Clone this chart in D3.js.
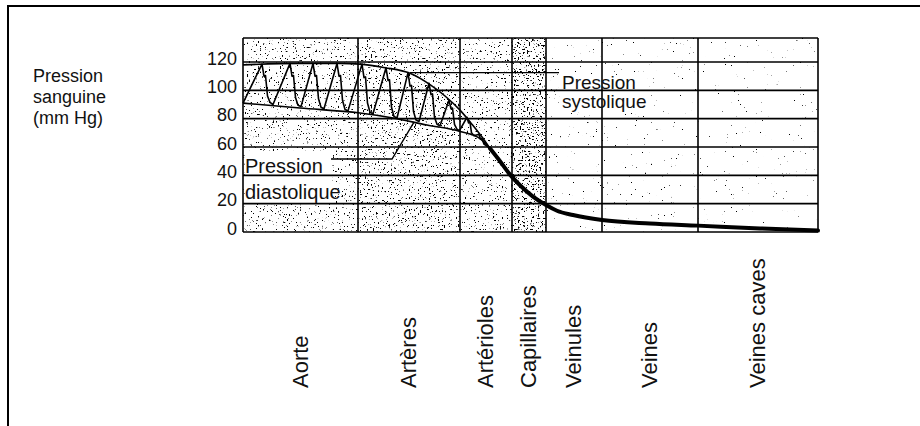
<!DOCTYPE html>
<html>
<head>
<meta charset="utf-8">
<script src="https://cdn.jsdelivr.net/npm/d3@7"></script>
<style>
  body { margin: 0; background: #fff; }
  svg text { font-family: "Liberation Sans", Arial, Helvetica, sans-serif; fill: #111; }
</style>
</head>
<body>
<div id="chart"></div>
<script>
// vessel segments along the circulation (schematic length of each box)
var segments = ["Aorte", "Artères", "Artérioles", "Capillaires", "Veinules", "Veines", "Veines caves"];
var segmentLengths = [23, 20.4, 10.4, 6.8, 11.2, 19.2, 24];
var pressureTicks = [0, 20, 40, 60, 80, 100, 120];

// [position, pressure mm Hg]
var systolic = [[0, 118], [11.4, 119], [19.4, 119], [23.4, 118.5], [28.4, 116], [33.4, 112],
  [37.4, 104], [40.4, 96], [43.4, 86], [45.8, 76], [47.8, 67], [49.4, 59]];
var diastolic = [[0, 91], [11.4, 87.5], [23.4, 84], [30, 80.5], [36.8, 75.5], [43.4, 71],
  [47.4, 66], [49.4, 59]];
var pulse = [[0, 91], [3.8, 118.5], [4.2, 110], [4.5, 110.5], [4.9, 96], [5.4, 91.5], [6, 90],
  [9.4, 119], [9.8, 110], [10.1, 110.5], [10.5, 95], [11, 89.5], [11.6, 88.5],
  [14, 119], [14.4, 110], [14.7, 110.5], [15.1, 94], [15.6, 88], [16.2, 87],
  [18.8, 119], [19.2, 110], [19.5, 110.5], [19.9, 93], [20.4, 86.5], [21, 85.5],
  [23.8, 118.5], [24.2, 109], [24.5, 109.5], [24.9, 91], [25.4, 84.5], [26, 83.5],
  [28.6, 116], [29, 107], [29.3, 107.5], [29.7, 88], [30.2, 81.5], [30.8, 80.5],
  [33, 112.5], [33.4, 103], [33.7, 103.5], [34.1, 85], [34.6, 79], [35.2, 78],
  [37.2, 105], [37.6, 97], [37.9, 97.5], [38.3, 81], [38.8, 76], [39.4, 75],
  [41.2, 93], [41.6, 87], [41.9, 87.5], [42.3, 76], [42.8, 72.5], [43.3, 71.5],
  [44.8, 81], [45.1, 77], [45.4, 77.5], [45.7, 70], [46.2, 68],
  [47.2, 69], [47.5, 65.5], [47.8, 66], [48.2, 62], [49.4, 59]];
var meanPressure = [[49.4, 59], [51.4, 50], [53.4, 40.5], [55.4, 33], [58, 25], [60.6, 19],
  [62.8, 15], [66, 12], [71.8, 8.5], [81.4, 6], [91, 4.5], [103.4, 2.5], [115, 1]];

var W = 920, H = 426;
var plot = {left: 243, right: 818, top: 38, bottom: 232};

var svg = d3.select("#chart").append("svg")
    .attr("width", W)
    .attr("height", H);

var x = d3.scaleLinear()
    .domain([0, d3.sum(segmentLengths)])
    .range([plot.left, plot.right]);
var y = d3.scaleLinear()
    .domain([0, 120])
    .range([plot.bottom, 62]);

// segment boundaries in data units
var bounds = [0];
segmentLengths.forEach(function(l, i) { bounds.push(bounds[i] + l); });

// speckle texture, one filter per density
var density = [0.33, 0.35, 0.32, 0.39, 0.24, 0.23, 0.22];
var defs = svg.append("defs");
density.forEach(function(d, i) {
  var f = defs.append("filter")
      .attr("id", "speck" + i)
      .attr("x", 0).attr("y", 0).attr("width", 1).attr("height", 1)
      .attr("color-interpolation-filters", "sRGB");
  f.append("feTurbulence")
      .attr("type", "fractalNoise")
      .attr("baseFrequency", 0.55)
      .attr("numOctaves", 3)
      .attr("seed", 3 + i);
  f.append("feColorMatrix")
      .attr("type", "matrix")
      .attr("values", "0 0 0 0 0  0 0 0 0 0  0 0 0 0 0  -16 0 0 0 " + (16 * d));
});

// frame of the figure
svg.append("path")
    .attr("d", "M8," + H + "V6H" + W)
    .attr("fill", "none")
    .attr("stroke", "#000")
    .attr("stroke-width", 2);

svg.selectAll(".cell")
    .data(segments)
  .enter().append("rect")
    .attr("class", "cell")
    .attr("x", function(d, i) { return x(bounds[i]); })
    .attr("y", plot.top)
    .attr("width", function(d, i) { return x(bounds[i + 1]) - x(bounds[i]); })
    .attr("height", plot.bottom - plot.top)
    .attr("fill", "#fff")
    .attr("filter", function(d, i) { return "url(#speck" + i + ")"; });

// white patches behind the in-plot labels
svg.append("rect")
    .attr("x", x(63.6)).attr("y", 75)
    .attr("width", 82).attr("height", 37)
    .attr("fill", "#fff");
svg.append("rect")
    .attr("x", x(0.3)).attr("y", 151)
    .attr("width", 88).attr("height", 53)
    .attr("fill", "#fff");

// grid
svg.selectAll(".hgrid")
    .data(pressureTicks)
  .enter().append("line")
    .attr("class", "hgrid")
    .attr("x1", plot.left).attr("x2", plot.right)
    .attr("y1", function(d) { return y(d); })
    .attr("y2", function(d) { return y(d); })
    .attr("stroke", "#000")
    .attr("stroke-width", 1.6);

svg.selectAll(".vgrid")
    .data(bounds)
  .enter().append("line")
    .attr("class", "vgrid")
    .attr("x1", function(d) { return x(d); })
    .attr("x2", function(d) { return x(d); })
    .attr("y1", plot.top).attr("y2", plot.bottom)
    .attr("stroke", "#000")
    .attr("stroke-width", 1.6);

svg.append("line")
    .attr("x1", plot.left).attr("x2", plot.right)
    .attr("y1", plot.top).attr("y2", plot.top)
    .attr("stroke", "#000")
    .attr("stroke-width", 1.6);

// y axis
var yAxis = svg.append("g")
    .attr("transform", "translate(" + plot.left + ",0)")
    .call(d3.axisLeft(y).tickValues(pressureTicks).tickSize(0).tickPadding(6));
yAxis.select(".domain").remove();
yAxis.selectAll("text")
    .attr("font-size", 18)
    .attr("font-family", null)
    .attr("dy", "0.12em");

var yTitle = ["Pression", "sanguine", "(mm Hg)"];
svg.append("text")
    .attr("y", 82)
    .attr("font-size", 18)
  .selectAll("tspan")
    .data(yTitle)
  .enter().append("tspan")
    .attr("x", 33)
    .attr("dy", function(d, i) { return i ? 21 : 0; })
    .text(function(d) { return d; });

// curves
var line = d3.line()
    .x(function(d) { return x(d[0]); })
    .y(function(d) { return y(d[1]); });
var smooth = d3.line()
    .x(function(d) { return x(d[0]); })
    .y(function(d) { return y(d[1]); })
    .curve(d3.curveMonotoneX);

svg.append("path").datum(systolic)
    .attr("d", smooth).attr("fill", "none")
    .attr("stroke", "#000").attr("stroke-width", 1.6);
svg.append("path").datum(diastolic)
    .attr("d", smooth).attr("fill", "none")
    .attr("stroke", "#000").attr("stroke-width", 1.6);
svg.append("path").datum(pulse)
    .attr("d", line).attr("fill", "none")
    .attr("stroke", "#000").attr("stroke-width", 1.6)
    .attr("stroke-linejoin", "round");
svg.append("path").datum(meanPressure)
    .attr("d", smooth).attr("fill", "none")
    .attr("stroke", "#000").attr("stroke-width", 4)
    .attr("stroke-linecap", "round");

// annotations
svg.append("path").datum([[33.4, 112.5], [63.2, 112.5]])
    .attr("d", line).attr("fill", "none")
    .attr("stroke", "#000").attr("stroke-width", 1.4);
svg.append("path").datum([[17.6, 51.5], [29.8, 51.5], [34.2, 77.5]])
    .attr("d", line).attr("fill", "none")
    .attr("stroke", "#000").attr("stroke-width", 1.4);

svg.append("text")
    .attr("x", x(63.8)).attr("y", 89)
    .attr("font-size", 19)
    .text("Pression");
svg.append("text")
    .attr("x", x(63.8)).attr("y", 108)
    .attr("font-size", 19)
    .text("systolique");
svg.append("text")
    .attr("x", x(0.4)).attr("y", 173)
    .attr("font-size", 20)
    .text("Pression");
svg.append("text")
    .attr("x", x(0.4)).attr("y", 199)
    .attr("font-size", 20)
    .text("diastolique");

// vessel names under the chart
svg.selectAll(".vessel")
    .data(segments)
  .enter().append("text")
    .attr("class", "vessel")
    .attr("font-size", 22)
    .attr("transform", function(d, i) {
      var cx = x((bounds[i] + bounds[i + 1]) / 2) + 7;
      return "translate(" + cx + ",388) rotate(-90)";
    })
    .text(function(d) { return d; });
</script>
</body>
</html>
